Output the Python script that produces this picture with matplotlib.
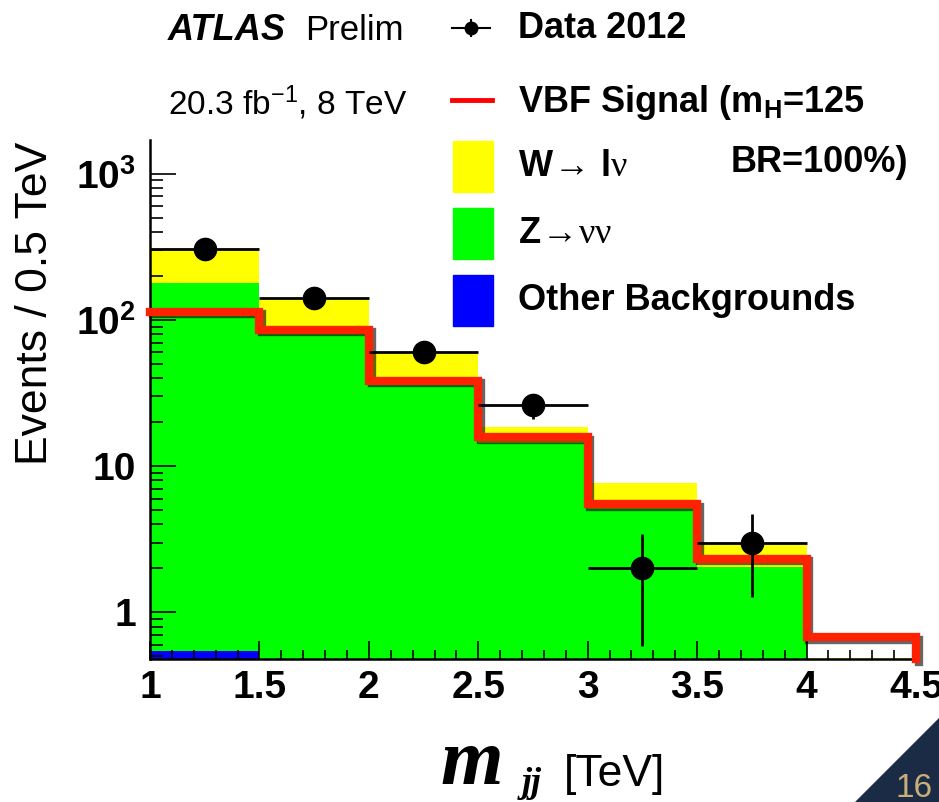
import numpy as np
import matplotlib.pyplot as plt
import matplotlib.patheffects as pe
from matplotlib.patches import Rectangle, Polygon
from matplotlib.lines import Line2D

plt.rcParams['font.family'] = ['Liberation Sans', 'DejaVu Sans']
plt.rcParams['mathtext.fontset'] = 'custom'
plt.rcParams['mathtext.rm'] = 'Liberation Sans'
plt.rcParams['mathtext.bf'] = 'Liberation Sans:bold'
plt.rcParams['mathtext.it'] = 'Liberation Sans:italic'
plt.rcParams['mathtext.sf'] = 'Liberation Serif'

# Datos (bins de m_jj en TeV)
edges = np.array([1.0, 1.5, 2.0, 2.5, 3.0, 3.5, 4.0, 4.5])
otros = np.array([0.54, 0.30, 0.15, 0.08, 0.04, 0.02, 0.01])
znunu = np.array([179.5, 87.7, 36.9, 14.4, 5.06, 2.03, 0.0])
wlnu = np.array([132.0, 52.0, 21.0, 3.9, 2.6, 0.85, 0.48])
senal = np.array([114.0, 86.0, 38.5, 15.8, 5.5, 2.33, 0.68])
datos = np.array([305, 142, 60, 26, 2, 3, 0])

yticks = [1, 10, 100, 1000]
yticklabels = ['1', '10', r'10$^{\mathbf{2}}$', r'10$^{\mathbf{3}}$']
xticks = [1, 1.5, 2, 2.5, 3, 3.5, 4, 4.5]
xticklabels = ['1', '1.5', '2', '2.5', '3', '3.5', '4', '4.5']

ymin, ymax = 0.48, 1700

fig = plt.figure(figsize=(9.39, 8.02), dpi=100)
ax = fig.add_axes([150/939, 1-659/802, 766/939, 519/802])

# stack de fondos
base = np.full(len(otros), 1e-3)
b1 = base + otros
b2 = b1 + znunu
b3 = b2 + wlnu
ax.stairs(b1, edges, baseline=base, fill=True, color='#0000ff', zorder=1)
ax.stairs(b2, edges, baseline=b1, fill=True, color='#00ff00', zorder=1)
ax.stairs(b3, edges, baseline=b2, fill=True, color='#ffff00', zorder=1)

# senal VBF (con sombra), baja hasta el eje en el ultimo borde
xs = np.append(np.repeat(edges, 2)[1:-1], edges[-1])
ys = np.append(np.repeat(senal, 2), ymin)
ax.plot(xs, ys, color='#ff2200', lw=6, solid_joinstyle='miter', clip_on=False, zorder=3,
        path_effects=[pe.SimpleLineShadow(offset=(2, -2), shadow_color='k', alpha=0.6),
                      pe.Normal()])

# datos
centros = 0.5 * (edges[:-1] + edges[1:])
m = datos > 0
ax.errorbar(centros[m], datos[m], xerr=0.25, yerr=np.sqrt(datos[m]), fmt='o', color='black',
            ms=16, elinewidth=2, capsize=0, zorder=4)

ax.set_yscale('log')
ax.set_xlim(1, 4.5)
ax.set_ylim(ymin, ymax)
ax.set_yticks(yticks)
ax.set_yticklabels(yticklabels)
ax.set_xticks(xticks)
ax.set_xticklabels(xticklabels)
ax.set_xticks(np.arange(1, 4.51, 0.1), minor=True)
ax.tick_params(axis='y', which='major', direction='in', length=19, width=1.2, pad=10,
               labelsize=28)
ax.tick_params(axis='y', which='minor', direction='in', length=9.5, width=1.2)
ax.tick_params(axis='x', which='major', direction='in', length=13, width=1.2, pad=8,
               labelsize=28)
ax.tick_params(axis='x', which='minor', direction='in', length=6.5, width=1.2)
for lab in ax.get_xticklabels() + ax.get_yticklabels():
    lab.set_fontweight('bold')
ax.spines['top'].set_visible(False)
ax.spines['right'].set_visible(False)
ax.spines['left'].set_linewidth(1.8)
ax.spines['bottom'].set_linewidth(1.8)
ax.set_facecolor('none')

ax.set_ylabel('Events / 0.5 TeV', fontsize=32)
ax.yaxis.set_label_coords(-0.123, 0.686)

# titulo eje x
fig.text(440/939, 1-784/802, 'm', family='Liberation Serif', weight='bold', style='italic',
         fontsize=58, va='baseline')
fig.text(522/939, 1-792/802, 'jj', family='Liberation Serif', weight='bold', style='italic',
         fontsize=26, va='baseline')
fig.text(564/939, 1-786/802, '[TeV]', fontsize=32, va='baseline')

# textos ATLAS
fig.text(168/939, 1-30/802, 'ATLAS', weight='bold', style='italic', fontsize=26, va='center')
fig.text(305/939, 1-30/802, 'Prelim', fontsize=25, va='center')
fig.text(168/939, 1-103/802, r'20.3 fb$^{-1}$, 8 TeV', fontsize=24, va='center')

# leyenda
fig.add_artist(Line2D([452/939, 490/939], [1-28/802, 1-28/802], color='black', lw=1.5))
fig.add_artist(Line2D([471/939, 471/939], [1-20/802, 1-36/802], color='black', lw=1.5))
fig.add_artist(Line2D([471/939], [1-28/802], marker='o', ms=9, color='black'))
fig.text(518/939, 1-28/802, 'Data 2012', weight='bold', fontsize=26, va='center')

fig.add_artist(Line2D([452/939, 492/939], [1-100/802, 1-100/802], color='#ff0000', lw=3.5))
fig.text(518/939, 1-103/802, r'VBF Signal (m$_{\mathbf{H}}$=125', weight='bold', fontsize=26,
         va='center')
fig.text(731/939, 1-162/802, 'BR=100%)', weight='bold', fontsize=26, va='center')

cajas = [('#ffff00', r'W$\!\rightarrow\!$ l$\mathsf{\nu}$', 167),
         ('#00ff00', r'Z$\!\rightarrow\!\mathsf{\nu\nu}$', 234),
         ('#0000ff', 'Other Backgrounds', 301)]
for col, txt, yc in cajas:
    fig.add_artist(Rectangle((453/939, 1-(yc+25)/802), 40/939, 51/802, color=col,
                             transform=fig.transFigure))
    fig.text(518/939, 1-yc/802, txt, weight='bold', fontsize=26, va='center')

# esquina de la diapositiva
fig.add_artist(Polygon([[855/939, 0], [1, 0], [1, 1-718/802]], closed=True, color='#1c2b45',
                       transform=fig.transFigure))
fig.text(933/939, 1-797/802, '16', color='#c8af78', fontsize=24, ha='right', va='baseline')

fig.savefig('out.png', dpi=100)
